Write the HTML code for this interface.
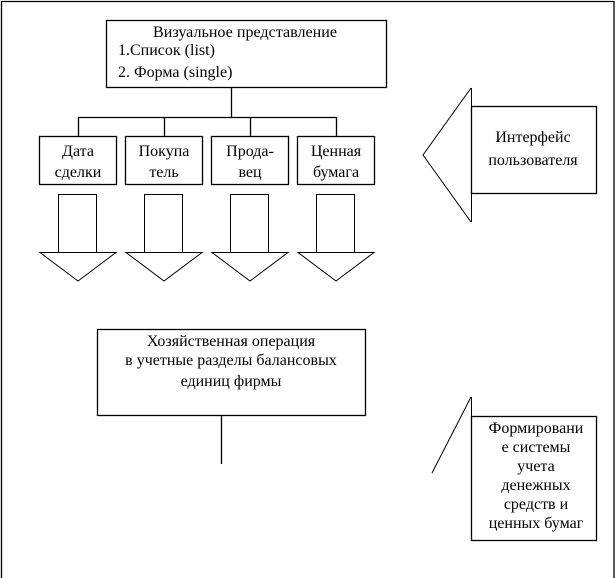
<!DOCTYPE html>
<html><head><meta charset="utf-8"><style>
html,body{margin:0;padding:0;background:#fff;}
svg{display:block;}
text{font-family:"Liberation Serif",serif;font-size:16px;fill:#000;}
</style></head><body>
<svg width="616" height="578" viewBox="0 0 616 578" xmlns="http://www.w3.org/2000/svg">
<g fill="none" stroke="#000" stroke-width="1.3">
<path d="M1.5 578 V1.5 H614 V578"/>
<rect x="106.5" y="20.5" width="280" height="67"/>
<path d="M231.5 87 V117.5 M78.5 136 V117.5 H336.5 V136 M164.5 117.5 V136 M250.5 117.5 V136"/>
<rect x="39.5" y="136.5" width="77" height="48"/>
<rect x="125.5" y="136.5" width="77" height="48"/>
<rect x="211.5" y="136.5" width="77" height="48"/>
<rect x="297.5" y="136.5" width="77" height="48"/>
<g stroke-width="1">
<path d="M58.5 252 V194.5 H96.5 V252 M40 252.5 H116 L78 281 Z"/>
<path d="M144.5 252 V194.5 H182.5 V252 M126 252.5 H202 L164 281 Z"/>
<path d="M230.5 252 V194.5 H268.5 V252 M212 252.5 H288 L250 281 Z"/>
<path d="M316.5 252 V194.5 H354.5 V252 M298 252.5 H374 L336 281 Z"/>
<path d="M471.5 88 V222 M471 88 L423 155 L471 222"/>
<path d="M471.5 397 V420 M471 397 L432 473"/>
</g>
<rect x="471.5" y="106.5" width="125" height="87"/>
<rect x="471.5" y="416.5" width="125" height="124"/>
<rect x="97.5" y="329.5" width="268" height="86"/>
<path d="M221.5 416 V464"/>
</g>
<text x="245" y="37" text-anchor="middle" textLength="184" lengthAdjust="spacingAndGlyphs">Визуальное представление</text>
<text x="118" y="55">1.Список (list)</text>
<text x="118" y="77">2. Форма (single)</text>
<g text-anchor="middle">
<text x="78" y="156">Дата</text><text x="78" y="177">сделки</text>
<text x="164" y="156">Покупа</text><text x="164" y="177">тель</text>
<text x="250" y="156">Прода-</text><text x="250" y="177">вец</text>
<text x="336" y="156">Ценная</text><text x="336" y="177">бумага</text>
<text x="533" y="142">Интерфейс</text><text x="533" y="165">пользователя</text>
<text x="536" y="433">Формировани</text>
<text x="536" y="452">е системы</text>
<text x="536" y="471">учета</text>
<text x="536" y="490">денежных</text>
<text x="536" y="509">средств и</text>
<text x="536" y="528">ценных бумаг</text>
<text x="231" y="346">Хозяйственная операция</text>
<text x="231" y="365">в учетные разделы балансовых</text>
<text x="231" y="386">единиц фирмы</text>
</g>
</svg>
</body></html>
